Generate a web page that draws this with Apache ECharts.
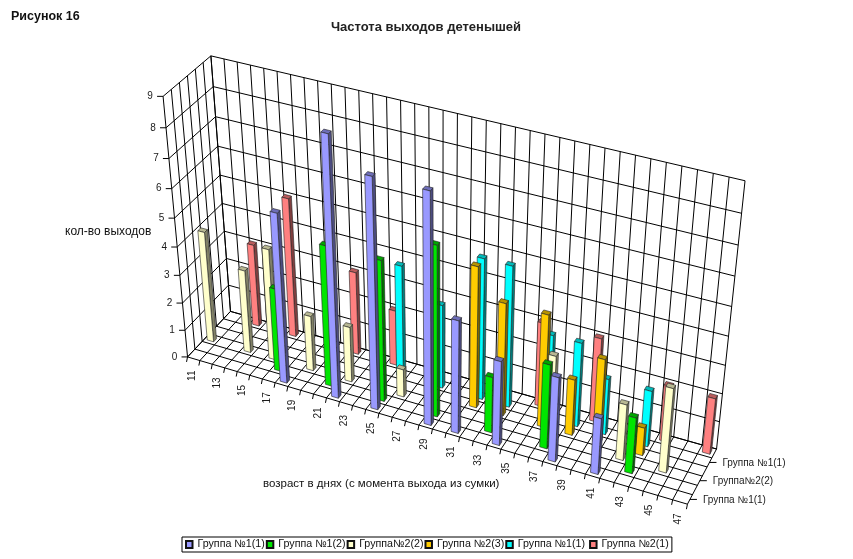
<!DOCTYPE html>
<html><head><meta charset="utf-8">
<style>html,body{margin:0;padding:0;background:#fff}#c{width:853px;height:559px}</style>
<script src="https://cdn.jsdelivr.net/npm/echarts@6/dist/echarts.min.js"></script>
</head><body><div id="c"></div>
<script>
const ages = [11,12,13,14,15,16,17,18,19,20,21,22,23,24,25,26,27,28,29,30,31,32,33,34,35,36,37,38,39,40,41,42,43,44,45,46,47];
const groupNames = ['Группа №1(1)','Группа №1(2)','Группа№2(2)','Группа №2(3)','Группа №1(1)\u00a0','Группа №2(1)'];
const groupColors = ['#9999FF','#00E600','#FFFFCC','#FFCC00','#00FFFF','#FF8080'];
const depthLabels = ['Группа №1(1)','Группа№2(2)','Группа №1(1)'];
const valueTicks = [0,1,2,3,4,5,6,7,8,9];
// values as [age, count]
const group1_1 = [[18,6],[22,9],[25,8],[29,8],[31,4],[34,3],[38,3],[41,2]];
const group1_2 = [[17,3],[21,5],[25,5],[29,6],[33,2],[37,3],[43,2]];
const group2_2 = [[11,4],[14,3],[16,4],[19,2],[22,2],[26,1],[37,3],[42,2],[45,3]];
const group2_3 = [[31,5],[33,4],[36,4],[38,2],[40,3],[43,1]];
const group1_1b = [[25,4],[28,3],[31,5],[33,5],[36,3],[38,3],[40,2],[43,2]];
const group2_1 = [[13,3],[16,5],[21,3],[24,2],[35,3],[39,3],[44,2],[47,2]];
const groupValues = [group1_1,group1_2,group2_2,group2_3,group1_1b,group2_1];

// 3D box → screen: corner correspondences (u along ages, v up, w depth)
const corners = [
 [0,0,0,188,356.5],[0,1,0,163,96],[0,0,1,230,312],[0,1,1,211,56],
 [1,1,1,745,181],[1,0,1,717,448],[1,0,0,687,505]
];
function solveCamera(pts){
  const n=11, M=Array.from({length:n},()=>new Array(n+1).fill(0));
  const add=(r,b)=>{for(let i=0;i<n;i++){for(let j=0;j<n;j++)M[i][j]+=r[i]*r[j];M[i][n]+=r[i]*b;}};
  pts.forEach(([u,v,w,x,y])=>{
    add([u,v,w,1,0,0,0,0,-x*u,-x*v,-x*w],x);
    add([0,0,0,0,u,v,w,1,-y*u,-y*v,-y*w],y);
  });
  for(let c=0;c<n;c++){
    let p=c;for(let r=c+1;r<n;r++)if(Math.abs(M[r][c])>Math.abs(M[p][c]))p=r;
    [M[c],M[p]]=[M[p],M[c]];
    for(let r=0;r<n;r++){if(r===c)continue;const f=M[r][c]/M[c][c];for(let k=c;k<=n;k++)M[r][k]-=f*M[c][k];}
  }
  return M.map((row,i)=>row[n]/row[i]);
}
const P=solveCamera(corners);
function proj(u,v,w){
  const d=P[8]*u+P[9]*v+P[10]*w+1;
  return [(P[0]*u+P[1]*v+P[2]*w+P[3])/d,(P[4]*u+P[5]*v+P[6]*w+P[7])/d];
}
const GRID={left:0,top:0,width:370,height:90};
const toUV=(pt)=>[(pt[0]-GRID.left)/GRID.width,(GRID.top+GRID.height-pt[1])/GRID.height];
const nD=groupNames.length;
const LINE='#000';
const FONT='"Liberation Sans", Arial, sans-serif';
function shade(hex,f){const n=parseInt(hex.slice(1),16);return 'rgb('+[(n>>16)&255,(n>>8)&255,n&255].map(c=>Math.round(c*f)).join(',')+')';}
function line(a,b,w){return {type:'line',shape:{x1:a[0],y1:a[1],x2:b[0],y2:b[1]},style:{stroke:LINE,lineWidth:w||1},silent:true};}
function txt(s,x,y,o){o=o||{};return {type:'text',x,y,rotation:o.rot||0,silent:true,style:{text:s,align:o.align||'center',verticalAlign:'middle',font:(o.size||10)+'px '+FONT,fill:'#1a1a1a'}};}

function renderFrame(params,api){
  const ch=[];const nA=ages.length;
  const vOf=t=>toUV(api.coord([0,t]))[1];
  valueTicks.forEach(t=>{
    const v=vOf(t);
    ch.push(line(proj(0,v,0),proj(0,v,1)));
    ch.push(line(proj(0,v,1),proj(1,v,1)));
    const a=proj(0,v,0);
    ch.push(line(a,[a[0]-6,a[1]]));
    ch.push(txt(String(t),a[0]-13,a[1],{size:10}));
  });
  for(let k=0;k<=nA;k++){
    const u=k/nA;
    ch.push(line(proj(u,0,1),proj(u,1,1)));
    ch.push(line(proj(u,0,0),proj(u,0,1)));
    const a=proj(u,0,0);
    ch.push(line(a,[a[0]-1,a[1]+5]));
  }
  for(let k=0;k<=nD;k++){
    const w=k/nD;
    ch.push(line(proj(0,0,w),proj(1,0,w)));
    ch.push(line(proj(0,0,w),proj(0,1,w)));
  }
  ages.forEach((age,i)=>{
    if(i%2) return;
    const p=toUV(api.coord([i,0]));
    const a=proj(p[0],0,0);
    ch.push(txt(String(age),a[0]-1.5,a[1]+17,{rot:Math.PI/2,size:10}));
  });
  depthLabels.forEach((s,i)=>{
    const a=proj(1,0,(2*i+0.5)/nD);
    ch.push(line(a,[a[0]+7,a[1]]));
    ch.push(txt(s,a[0]+13,a[1]+1,{align:'left',size:10}));
  });
  return {type:'group',children:ch};
}
function makeBar(s){
  return function(params,api){
    const c=toUV(api.coord([api.value(0),0]));
    const t=toUV(api.coord([api.value(0),api.value(1)]));
    const u=c[0],v=t[1];
    const hu=0.26/ages.length,hw=0.2/nD,w=(s+0.5)/nD;
    const col=groupColors[s];
    const A=proj(u-hu,0,w-hw),B=proj(u+hu,0,w-hw),C=proj(u+hu,v,w-hw),D=proj(u-hu,v,w-hw);
    const E=proj(u+hu,0,w+hw),F=proj(u+hu,v,w+hw),G=proj(u-hu,v,w+hw);
    const st=(f)=>({fill:shade(col,f),stroke:'#222',lineWidth:0.6});
    return {type:'group',children:[
      {type:'polygon',shape:{points:[B,E,F,C]},style:st(0.5)},
      {type:'polygon',shape:{points:[D,C,F,G]},style:st(0.72)},
      {type:'polygon',shape:{points:[A,B,C,D]},style:st(1)}
    ]};
  };
}
const barSeries=groupValues.map((vals,s)=>({
  name:groupNames[s],type:'custom',coordinateSystem:'cartesian2d',z:20-s,clip:false,
  itemStyle:{color:groupColors[s],borderColor:'#111',borderWidth:0.7},
  renderItem:makeBar(s),
  data:vals.map(([age,n])=>[ages.indexOf(age),n])
}));
const chart=echarts.init(document.getElementById('c'),null,{renderer:'canvas'});
chart.setOption({
  animation:false,backgroundColor:'#fff',
  textStyle:{fontFamily:FONT},
  grid:GRID,
  xAxis:{type:'category',data:ages,show:false},
  yAxis:{type:'value',min:0,max:9,interval:1,show:false},
  title:[
    {text:'Рисунок 16',left:11,top:10,padding:0,textStyle:{fontSize:12.5,fontWeight:'bold',color:'#111',fontFamily:FONT}},
    {text:'Частота выходов детенышей',left:426,top:21,padding:0,textAlign:'center',textStyle:{fontSize:13,fontWeight:'bold',color:'#222',fontFamily:FONT}}
  ],
  legend:{
    data:groupNames,left:182,top:537,itemWidth:6.5,itemHeight:7,itemGap:1,padding:[2,3],
    icon:'rect',borderColor:'#000',borderWidth:1,
    textStyle:{fontSize:10.7,color:'#111',fontFamily:FONT}
  },
  graphic:[
    {type:'text',left:65,top:226,silent:true,style:{text:'кол-во выходов',font:'12px '+FONT,fill:'#111'}},
    {type:'text',left:263,top:478,silent:true,style:{text:'возраст в днях (с момента выхода из сумки)',font:'11.5px '+FONT,fill:'#111'}}
  ],
  series:[{type:'custom',coordinateSystem:'cartesian2d',z:1,clip:false,silent:true,renderItem:renderFrame,data:[[0,0]]}].concat(barSeries)
});
</script></body></html>
